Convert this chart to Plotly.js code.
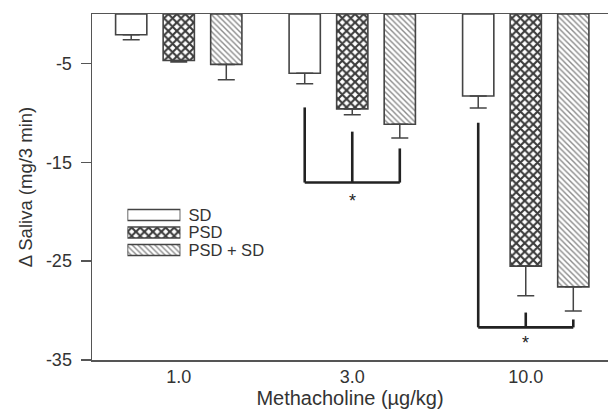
<!DOCTYPE html>
<html>
<head>
<meta charset="utf-8">
<script src="https://cdn.plot.ly/plotly-3.0.1.min.js"></script>
<style>html,body{margin:0;padding:0;background:#fff;}#chart{width:608px;height:415px;}</style>
</head>
<body>
<div id="chart"></div>
<script>
// ---- data ----
var doses = ['1.0', '3.0', '10.0'];
var seriesNames = ['SD', 'PSD', 'PSD + SD'];
var sdMean = [-2.1, -6.0, -8.3];
var sdErr = [0.5, 1.05, 1.2];
var psdMean = [-4.7, -9.6, -25.5];
var psdErr = [0.15, 0.6, 3.0];
var psdsdMean = [-5.1, -11.15, -27.6];
var psdsdErr = [1.55, 1.4, 2.45];

// significance brackets: group index, tops of the three legs, bar level, star level
var brGroup = [1, 2];
var brLegTops = [[-9.45, -11.9, -13.6], [-11.0, -30.2, -30.9]];
var brLevel = [-17.05, -31.7];
var brStar = [-18.9, -33.3];

// ---- style ----
var FONT = '"Liberation Sans", Arial, Helvetica, sans-serif';
var TXT = '#333';
var EDGE = '#444';
var BW = 0.18;       // bar width (category units)
var STEP = 0.274;    // distance between bar centres in a group

var styles = [
  {color: 'white', pattern: {shape: ''}},
  {color: 'white', pattern: {shape: 'x', fgcolor: '#3a3a3a', bgcolor: 'white', size: 6, solidity: 0.58}},
  {color: 'white', pattern: {shape: '\\', fgcolor: '#8a8a8a', bgcolor: 'white', size: 4, solidity: 0.35}}
];
var means = [sdMean, psdMean, psdsdMean];
var errs = [sdErr, psdErr, psdsdErr];
var xs = doses.map(function (d, i) { return i; });

var traces = [];
for (var s = 0; s < 3; s++) {
  traces.push({
    type: 'bar', x: xs, y: means[s], name: seriesNames[s],
    width: BW, offset: (s - 1) * STEP - BW / 2,
    marker: {color: styles[s].color, pattern: styles[s].pattern, line: {color: EDGE, width: 1.6}},
    error_y: {type: 'data', symmetric: false, array: [0, 0, 0], arrayminus: errs[s],
              color: EDGE, thickness: 1.5, width: 8.5},
    showlegend: false, hoverinfo: 'skip'
  });
}
// legend drawn as small horizontal bars on a second axis pair
for (var s2 = 0; s2 < 3; s2++) {
  traces.push({
    type: 'bar', orientation: 'h', x: [1], y: [seriesNames[s2]], base: 0,
    width: 0.63, offset: -0.315,
    xaxis: 'x2', yaxis: 'y2',
    marker: {color: styles[s2].color, pattern: styles[s2].pattern, line: {color: EDGE, width: 1.6}},
    showlegend: false, hoverinfo: 'skip'
  });
}

var shapes = [];
var annotations = [];
for (var b = 0; b < brGroup.length; b++) {
  var g = brGroup[b];
  var x0 = g - STEP, x2 = g + STEP;
  shapes.push({type: 'line', xref: 'x', yref: 'y', x0: x0, x1: x2, y0: brLevel[b], y1: brLevel[b],
               line: {color: '#222', width: 2.6}});
  for (var k = 0; k < 3; k++) {
    var xk = g + (k - 1) * STEP;
    shapes.push({type: 'line', xref: 'x', yref: 'y', x0: xk, x1: xk, y0: brLegTops[b][k], y1: brLevel[b],
                 line: {color: '#222', width: 2.6}});
  }
  annotations.push({xref: 'x', yref: 'y', x: g, y: brStar[b], text: '*', showarrow: false,
                    font: {family: FONT, size: 18, color: '#222'}});
}

var layout = {
  width: 608, height: 415,
  margin: {l: 92, r: 0, t: 14, b: 55, pad: 0},
  paper_bgcolor: 'white', plot_bgcolor: 'white',
  barmode: 'overlay',
  font: {family: FONT, color: TXT},
  xaxis: {
    range: [-0.5, 2.474], tickvals: xs, ticktext: doses,
    showgrid: false, zeroline: false, showline: true, mirror: true,
    linecolor: '#555', linewidth: 1.5, ticks: '',
    tickfont: {family: FONT, size: 18, color: TXT},
    title: {text: 'Methacholine (µg/kg)', font: {family: FONT, size: 20, color: TXT}, standoff: 4}
  },
  yaxis: {
    range: [-35, 0], tickvals: [-5, -15, -25, -35], ticktext: ['-5', '-15', '-25', '-35'],
    showgrid: false, zeroline: false, showline: true, linecolor: '#555', linewidth: 1.5,
    ticks: 'outside', ticklen: 10, tickcolor: '#555', tickwidth: 1.5,
    ticklabelstandoff: 5,
    tickfont: {family: FONT, size: 18, color: TXT},
    title: {text: 'Δ Saliva (mg/3 min)', font: {family: FONT, size: 18.5, color: TXT}, standoff: 8}
  },
  xaxis2: {domain: [0.0687, 0.1713], range: [0, 1], anchor: 'y2', visible: false, fixedrange: true},
  yaxis2: {domain: [0.2926, 0.4444], anchor: 'x2', side: 'right', type: 'category',
           categoryorder: 'array', categoryarray: seriesNames, autorange: 'reversed',
           tickmode: 'array', tickvals: seriesNames, ticktext: seriesNames,
           showgrid: false, zeroline: false, showline: false, ticks: '',
           tickfont: {family: FONT, size: 16.5, color: TXT}, ticklabelstandoff: 7},
  shapes: shapes,
  annotations: annotations,
  showlegend: false
};

Plotly.newPlot('chart', traces, layout, {displayModeBar: false, staticPlot: true});
</script>
</body>
</html>
